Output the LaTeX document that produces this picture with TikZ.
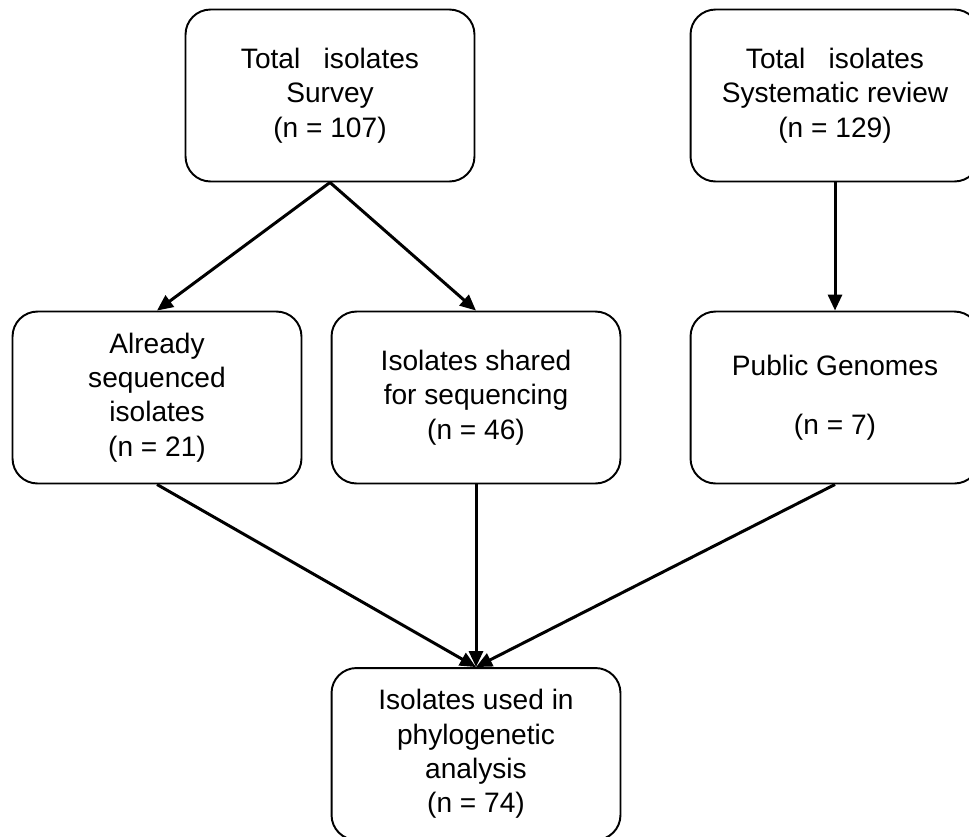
\documentclass[tikz,border=0pt]{standalone}
\usepackage{fontspec}
\setmainfont{Liberation Sans}
\usetikzlibrary{math}
\usetikzlibrary{arrows.meta}

\begin{document}
\begin{tikzpicture}[x=0.02cm, y=-0.02cm,
    box/.style={draw, line width=1.1pt, rounded corners=0.5cm, align=center,
      minimum width=5.78cm, minimum height=3.44cm, inner sep=0pt,
      font=\fontsize{16}{19.5}\selectfont},
    flow/.style={line width=1.7pt, -{Triangle[length=0.32cm, width=0.28cm]}}]
          \tikzmath{
            \rowa=95.5;
            \rowb=397.5;
            \rowc=754;
            \cola=157;
            \colb=476;
            \colc=835;}
          \clip (0,0) rectangle (969,836);
          \node[box] (survey) at (330,\rowa) {Total~~~isolates\\Survey\\(n = 107)};
          \node[box] (review) at (\colc,\rowa) {Total~~~isolates\\Systematic review\\(n = 129)};
          \node[box] (already) at (\cola,\rowb) {Already\\sequenced\\isolates\\(n = 21)};
          \node[box] (shared) at (\colb,\rowb) {Isolates shared\\for sequencing\\(n = 46)};
          \node[box] (public) at (\colc,\rowb) {Public Genomes\\[0.5cm](n = 7)};
          \node[box] (used) at (\colb,\rowc) {Isolates used in\\phylogenetic\\analysis\\(n = 74)};
          \draw[flow] (survey.south) -- (already.north);
          \draw[flow] (survey.south) -- (shared.north);
          \draw[flow] (review.south) -- (public.north);
          \draw[flow] (already.south) -- (used.north);
          \draw[flow] (shared.south) -- (used.north);
          \draw[flow] (public.south) -- (used.north);
        \end{tikzpicture}
\end{document}
